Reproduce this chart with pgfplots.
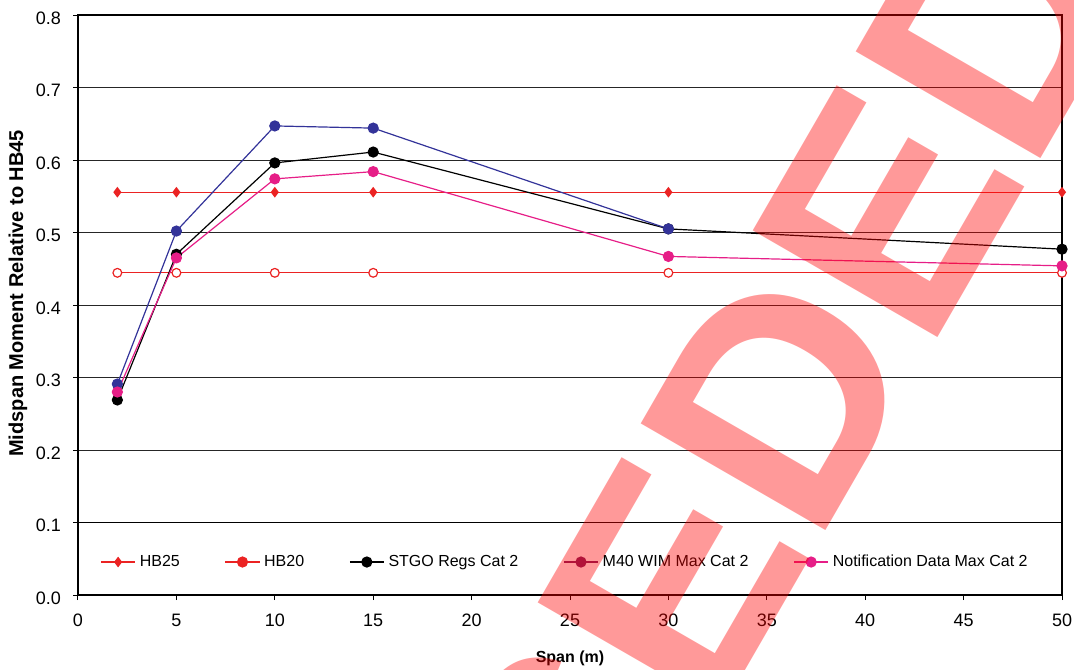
\documentclass[border=0pt]{standalone}
\usepackage{fontspec}
\setmainfont{Liberation Sans}
\usepackage{pgfplots}
\pgfplotsset{compat=1.18}
\definecolor{hbred}{RGB}{235,35,35}
\definecolor{mblue}{RGB}{51,51,153}
\definecolor{npink}{RGB}{230,30,135}
\definecolor{mpurple}{RGB}{128,32,96}
\begin{document}
\begin{tikzpicture}
\begin{axis}[
  scale only axis, width=492pt, height=290pt,
  at={(0,0)}, anchor=south west,
  xmin=0, xmax=50, ymin=0, ymax=0.8,
  xtick={0,5,10,15,20,25,30,35,40,45,50},
  ytick={0,0.1,0.2,0.3,0.4,0.5,0.6,0.7,0.8},
  ymajorgrids, major grid style={black!85, line width=0.5pt},
  axis line style={black, line width=0.6pt},
  tick align=outside, xtick pos=bottom, ytick pos=left,
  major tick length=2.5pt, tick style={black, line width=0.5pt},
  /pgf/number format/assume math mode=true,
  ticklabel style={font=\fontsize{9}{10.8}\selectfont},
  yticklabel style={/pgf/number format/.cd, fixed, fixed zerofill, precision=1, /tikz/.cd, xshift=-2.5pt, yshift=-1.5pt},
  xticklabel style={yshift=-3.5pt},
  xlabel={Span (m)}, ylabel={Midspan Moment Relative to HB45},
  xlabel style={font=\bfseries\fontsize{8}{9.6}\selectfont, at={(axis description cs:0.5,-0.11)}, anchor=center},
  ylabel style={font=\bfseries\fontsize{10}{12}\selectfont, at={(axis description cs:-0.061,0.52)}, anchor=center},
  clip=false,
  legend columns=5,
  legend style={at={(axis cs:1.12,0.0455)}, anchor=west, draw=none, fill=none, inner sep=0pt,
    font=\fontsize{8}{9.6}\selectfont, column sep=0pt,
    /tikz/every even column/.append style={column sep=20.5pt}},
]
\draw[black, line width=0.6pt] (axis cs:0,0) rectangle (axis cs:50,0.1);
\addlegendimage{hbred, line width=0.6pt, mark=diamond*, mark size=2.2pt, mark options={fill=hbred}}
\addlegendentry{HB25}
\addlegendimage{hbred, line width=0.6pt, mark=*, mark size=2.5pt, mark options={fill=hbred}}
\addlegendentry{HB20}
\addlegendimage{black, line width=0.6pt, mark=*, mark size=2.5pt, mark options={fill=black}}
\addlegendentry{STGO Regs Cat 2}
\addlegendimage{mpurple, line width=0.6pt, mark=*, mark size=2.5pt, mark options={fill=mpurple}}
\addlegendentry{M40 WIM Max Cat 2}
\addlegendimage{npink, line width=0.6pt, mark=*, mark size=2.5pt, mark options={fill=npink}}
\addlegendentry{Notification Data Max Cat 2}
% HB25
\addplot[forget plot, hbred, line width=0.6pt, mark=diamond*, mark size=2.2pt, mark options={fill=hbred}]
  coordinates {(2,0.5556)(5,0.5556)(10,0.5556)(15,0.5556)(30,0.5556)(50,0.5556)};
% HB20
\addplot[forget plot, hbred, line width=0.6pt, mark=*, mark size=2.2pt, mark options={fill=white, draw=hbred}]
  coordinates {(2,0.4444)(5,0.4444)(10,0.4444)(15,0.4444)(30,0.4444)(50,0.4444)};
% STGO Regs Cat 2
\addplot[forget plot, black, line width=0.6pt, mark=*, mark size=2.5pt, mark options={fill=black}]
  coordinates {(2,0.269)(5,0.470)(10,0.596)(15,0.611)(30,0.505)(50,0.477)};
% M40 WIM Max Cat 2
\addplot[forget plot, mblue, line width=0.6pt, mark=*, mark size=2.5pt, mark options={fill=mblue}]
  coordinates {(2,0.291)(5,0.502)(10,0.647)(15,0.644)(30,0.505)};
% Notification Data Max Cat 2
\addplot[forget plot, npink, line width=0.6pt, mark=*, mark size=2.5pt, mark options={fill=npink}]
  coordinates {(2,0.280)(5,0.465)(10,0.574)(15,0.584)(30,0.467)(50,0.454)};
\end{axis}
\begin{scope}
\clip (-39pt,-37pt) rectangle (498pt,297.5pt);
\begin{scope}[shift={(430.5pt,130pt)}, rotate=60]
\node[transform shape, anchor=base east, inner sep=0pt, text=red, opacity=0.4,
  font=\bfseries\fontsize{155}{155}\selectfont] at (204pt,0) {SUPERSEDED};
\end{scope}
\end{scope}
\pgfresetboundingbox
\useasboundingbox (-39pt,-37pt) rectangle (498pt,297.5pt);
\end{tikzpicture}
\end{document}
